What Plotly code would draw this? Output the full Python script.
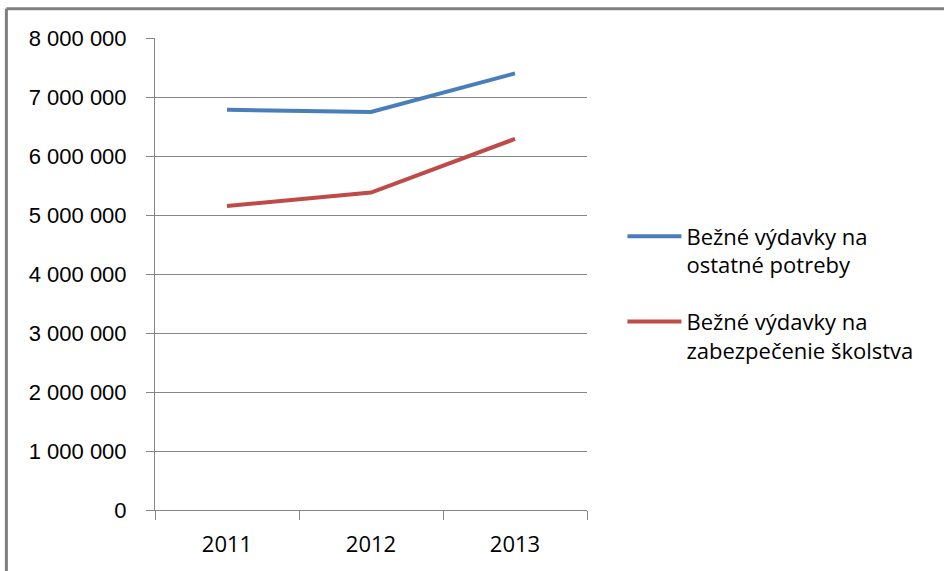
import plotly.graph_objects as go

years   = ["2011", "2012", "2013"]
ostatne = [6785000, 6745000, 7400000]
skolstvo = [5153000, 5380000, 6290000]
names   = ["Bežné výdavky na<br>ostatné potreby", "Bežné výdavky na<br>zabezpečenie školstva"]
yticks  = [0, 1000000, 2000000, 3000000, 4000000, 5000000, 6000000, 7000000, 8000000]
ylabels = ["0", "1 000 000", "2 000 000", "3 000 000", "4 000 000",
           "5 000 000", "6 000 000", "7 000 000", "8 000 000"]

fig = go.Figure()
fig.add_trace(go.Scatter(x=years, y=ostatne, name=names[0], mode="lines", legendgroup="a",
                         line=dict(color="#4A7EBB", width=4)))
fig.add_trace(go.Scatter(x=years, y=skolstvo, name=names[1], mode="lines", legendgroup="b",
                         line=dict(color="#BE4B48", width=4)))

grid = "#868686"
fig.update_layout(
    width=944, height=571,
    margin=dict(l=155, r=357, t=38, b=61),
    paper_bgcolor="white", plot_bgcolor="white",
    font=dict(family="Liberation Sans, Arial", size=22, color="black"),
    showlegend=True,
    legend=dict(x=1.082, y=0.624, xanchor="left", yanchor="top",
                font=dict(family="Open Sans", size=22), valign="top",
                itemwidth=54, tracegroupgap=25, bgcolor="rgba(0,0,0,0)"),
    xaxis=dict(type="category", range=[-0.5, 2.5], showgrid=False,
               showline=True, linecolor=grid, linewidth=1,
               ticks="outside", tickson="boundaries", ticklen=9, tickcolor=grid,
               ticklabelstandoff=15,
               tickfont=dict(family="Open Sans", size=22), zeroline=False),
    yaxis=dict(range=[0, 8000000], tickvals=yticks, ticktext=ylabels,
               showgrid=True, gridcolor=grid, gridwidth=1,
               showline=True, linecolor=grid, linewidth=1,
               ticks="outside", ticklen=8, tickcolor=grid, zeroline=False,
               ticklabelstandoff=15),
    shapes=[
        dict(type="line", xref="paper", yref="paper", x0=-0.344, x1=1.83,
             y0=1.062, y1=1.062, line=dict(color="#7F7F7F", width=3)),
        dict(type="line", xref="paper", yref="paper", x0=-0.344, x1=-0.344,
             y0=1.062, y1=-0.2, line=dict(color="#7F7F7F", width=3)),
    ],
)

fig.write_html("out.html", config={"displayModeBar": False},
               post_script="document.body.style.margin='0';")
